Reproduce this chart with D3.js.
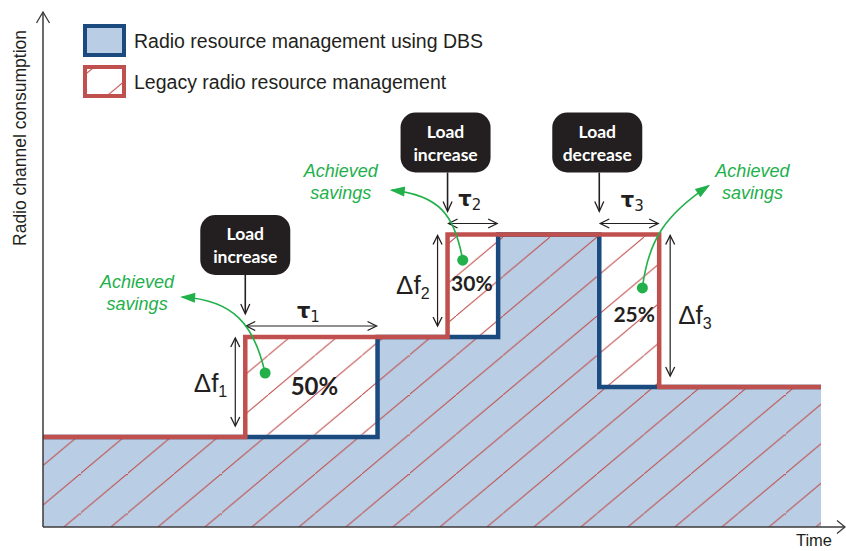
<!DOCTYPE html>
<html><head><meta charset="utf-8">
<script src="https://cdn.jsdelivr.net/npm/d3@7"></script>
<style>body{margin:0;background:#fff} svg{display:block}</style>
</head><body>
<svg id="chart" width="846" height="551"></svg>
<script>
// ---------------- data ----------------
const legacyTime  = [0, 26, 52, 79.2, 100];
const legacyLevel = [1.8, 3.8, 5.85, 2.8, 2.8];
const dbsTime     = [0, 43, 58.5, 71.5, 100];
const dbsLevel    = [1.8, 3.8, 5.85, 2.8, 2.8];
const legendLabels = ["Radio resource management using DBS", "Legacy radio resource management"];
const eventLabels  = [["Load", "increase"], ["Load", "increase"], ["Load", "decrease"]];
const savingsLabels = ["50%", "30%", "25%"];
const tauSubs   = ["1", "2", "3"];
const deltaSubs = ["1", "2", "3"];
const deltaSide = ["left", "left", "right"];
const achievedLabel = ["Achieved", "savings"];
const xAxisLabel = "Time";
const yAxisLabel = "Radio channel consumption";

// ---------------- layout / style ----------------
const W = 846, H = 551;
const BLUE_FILL = "#b9cde4", BLUE = "#1b4a7e", RED = "#c0504d", GREEN = "#22b04b", INK = "#231f20";
const x = d3.scaleLinear().domain([0, 100]).range([43, 821]);
const y = d3.scaleLinear().domain([0, 10]).range([527, 27]);

const svg = d3.select("#chart");
const defs = svg.append("defs");

// hatch pattern
const hw = 47, hh = 39.5;
const pat = defs.append("pattern").attr("id", "hatch").attr("patternUnits", "userSpaceOnUse")
  .attr("width", hw).attr("height", hh).attr("x", 33).attr("y", 0);
pat.append("line").attr("x1", -2).attr("y1", hh + 2 * hh / hw).attr("x2", hw + 2).attr("y2", -2 * hh / hw)
  .attr("stroke", RED).attr("stroke-width", 1);

const legacy = legacyTime.map((t, i) => ({t, v: legacyLevel[i]}));
const dbs = dbsTime.map((t, i) => ({t, v: dbsLevel[i]}));

const area = d3.area().x(d => x(d.t)).y0(y(0)).y1(d => y(d.v)).curve(d3.curveStepAfter);
const line = d3.line().x(d => x(d.t)).y(d => y(d.v)).curve(d3.curveStepAfter);

svg.append("path").attr("d", area(legacy)).attr("fill", "#fff");
svg.append("path").attr("d", area(dbs)).attr("fill", BLUE_FILL);
svg.append("path").attr("d", area(legacy)).attr("fill", "url(#hatch)");
svg.append("path").attr("d", line(dbs)).attr("fill", "none").attr("stroke", BLUE).attr("stroke-width", 4.5);
svg.append("path").attr("d", line(legacy)).attr("fill", "none").attr("stroke", RED).attr("stroke-width", 4.5);

// axes (no ticks) + arrow heads
const gx = svg.append("g").attr("transform", `translate(0,${y(0)})`)
  .call(d3.axisBottom(x).tickValues([]).tickSizeOuter(0));
const gy = svg.append("g").attr("transform", `translate(${x(0)},0)`)
  .call(d3.axisLeft(y).tickValues([]).tickSizeOuter(0));
[gx, gy].forEach(g => g.select(".domain").remove());
const AX = "#3a3a3a";
svg.append("line").attr("x1", x(0)).attr("x2", 845).attr("y1", y(0)).attr("y2", y(0)).attr("stroke", AX).attr("stroke-width", 1.5);
svg.append("line").attr("x1", x(0)).attr("x2", x(0)).attr("y1", y(0)).attr("y2", 12).attr("stroke", AX).attr("stroke-width", 1.5);
svg.append("path").attr("d", `M${845-8},${y(0)-6.5}L845,${y(0)}L${845-8},${y(0)+6.5}`).attr("fill", "none").attr("stroke", AX).attr("stroke-width", 1.3);
svg.append("path").attr("d", `M${x(0)-6.5},${12+11}L${x(0)},12L${x(0)+6.5},${12+11}`).attr("fill", "none").attr("stroke", AX).attr("stroke-width", 1.3);

svg.append("text").attr("x", 814).attr("y", 546).attr("text-anchor", "middle")
  .attr("font-family", "Liberation Sans, Arial, sans-serif").attr("font-size", 16.5).attr("fill", INK).text(xAxisLabel);
svg.append("text").attr("transform", "translate(26,138) rotate(-90)").attr("text-anchor", "middle")
  .attr("font-family", "Liberation Sans, Arial, sans-serif").attr("font-size", 17.5).attr("fill", INK).text(yAxisLabel);

// legend
const leg = svg.append("g");
legendLabels.forEach((lab, i) => {
  const ly = 26 + i * 41;
  if (i === 0) {
    leg.append("rect").attr("x", 85).attr("y", ly).attr("width", 39).attr("height", 29)
      .attr("fill", BLUE_FILL).attr("stroke", BLUE).attr("stroke-width", 4);
  } else {
    leg.append("rect").attr("x", 85).attr("y", ly).attr("width", 39).attr("height", 29).attr("fill", "#fff");
    leg.append("rect").attr("x", 85).attr("y", ly).attr("width", 39).attr("height", 29)
      .attr("fill", "url(#hatch)").attr("stroke", RED).attr("stroke-width", 4);
  }
  leg.append("text").attr("x", 134).attr("y", ly + 22).attr("font-family", "Liberation Sans, Arial, sans-serif")
    .attr("font-size", 19.5).attr("fill", INK).text(lab);
});

// ---------------- derived savings windows ----------------
function valAt(series, t) {
  let v = series[0].v;
  for (const d of series) if (d.t <= t) v = d.v;
  return v;
}
const bps = Array.from(new Set([...legacyTime, ...dbsTime])).sort((a, b) => a - b);
const windows = [];
for (let i = 0; i < bps.length - 1; i++) {
  const m = (bps[i] + bps[i + 1]) / 2;
  const lv = valAt(legacy, m), dv = valAt(dbs, m);
  if (lv > dv) windows.push({t0: bps[i], t1: bps[i + 1], hi: lv, lo: dv});
}

// annotation tweaks (pixel offsets, per window)
const pctFont = [24, 21, 21];
const pctDy = [8, 5, 11];
const pctDx = [3, -1, 5];
const tauDy = [-8, -18, -17];
const tauDx = [-3, -3, 3];
const deltaLabelDy = [10, 13, 18];
const dotFrac = [[0.15, 0.36], [0.3, 0.25], [0.72, 0.35]];
const tipOff = [[-83, -76], [-71, -70], [66, -102]];
const curveCtl = [[[-11, -48], [-31, -73]], [[-8, -45], [-23, -65]], [[6, -48], [23, -73]]];
const textOff = [[-45, -9], [-51, -13], [44, -9]];

function chevron(g, x0, y0, dx, dy, len, half) {
  const px = -dy, py = dx;
  g.append("path").attr("d",
    `M${x0 - dx * len + px * half},${y0 - dy * len + py * half}L${x0},${y0}L${x0 - dx * len - px * half},${y0 - dy * len - py * half}`)
    .attr("fill", "none").attr("stroke", INK).attr("stroke-width", 1.3);
}

const ann = svg.append("g");
windows.forEach((w, i) => {
  const xs = x(w.t0), xe = x(w.t1), yh = y(w.hi), yl = y(w.lo);

  // event callout
  const bw = 90, bh = 60;
  const bx = xs - bw / 2 - (i === 0 ? 0 : 2);
  ann.append("rect").attr("x", bx).attr("y", yh - 122).attr("width", bw).attr("height", bh).attr("rx", 15)
    .attr("fill", INK);
  eventLabels[i].forEach((s, k) => {
    ann.append("text").attr("x", bx + bw / 2).attr("y", yh - 97 + k * 23).attr("text-anchor", "middle")
      .attr("font-family", "Lato, 'Open Sans', sans-serif").attr("font-weight", 700).attr("font-size", 17.5)
      .attr("fill", "#fff").text(s);
  });
  ann.append("line").attr("x1", xs).attr("x2", xs).attr("y1", yh - 62).attr("y2", yh - 24)
    .attr("stroke", INK).attr("stroke-width", 1.6);
  chevron(ann, xs, yh - 23, 0, 1, 10, 4.5);

  // tau arrow
  const ty = yh - 11;
  ann.append("line").attr("x1", xs + 1).attr("x2", xe - 1).attr("y1", ty).attr("y2", ty).attr("stroke", INK).attr("stroke-width", 1.2);
  chevron(ann, xs + 1, ty, -1, 0, 9, 4.5);
  chevron(ann, xe - 1, ty, 1, 0, 9, 4.5);
  const tt = ann.append("text").attr("x", (xs + xe) / 2 + tauDx[i]).attr("y", ty + tauDy[i]).attr("text-anchor", "middle")
    .attr("font-family", "DejaVu Sans, sans-serif").attr("fill", INK);
  tt.append("tspan").attr("font-size", 21).attr("font-weight", 700).text("τ");
  tt.append("tspan").attr("font-size", 15).attr("dy", 4).text(tauSubs[i]);

  // delta f arrow
  const right = deltaSide[i] === "right";
  const ax = right ? xe + 11 : xs - 10;
  const y1 = yh + 1, y2 = yl - 11;
  ann.append("line").attr("x1", ax).attr("x2", ax).attr("y1", y1).attr("y2", y2).attr("stroke", INK).attr("stroke-width", 1.2);
  chevron(ann, ax, y1, 0, -1, 9, 4.5);
  chevron(ann, ax, y2, 0, 1, 9, 4.5);
  const dt = ann.append("text").attr("x", right ? ax + 8 : ax - 8).attr("y", (y1 + y2) / 2 + deltaLabelDy[i])
    .attr("text-anchor", right ? "start" : "end").attr("font-family", "Liberation Sans, Arial, sans-serif").attr("fill", INK);
  dt.append("tspan").attr("font-size", 26).text("Δf");
  dt.append("tspan").attr("font-size", 16).attr("dy", 5).text(deltaSubs[i]);

  // percentage
  ann.append("text").attr("x", (xs + xe) / 2 + pctDx[i]).attr("y", (yh + yl) / 2 + pctDy[i]).attr("text-anchor", "middle")
    .attr("font-family", "Lato, 'Open Sans', sans-serif").attr("font-weight", 700).attr("font-size", pctFont[i])
    .attr("fill", INK).text(savingsLabels[i]);

  // achieved savings
  const dx0 = xs + (xe - xs) * dotFrac[i][0], dy0 = yh + (yl - yh) * dotFrac[i][1];
  const tx = dx0 + tipOff[i][0], tyy = dy0 + tipOff[i][1];
  const c1 = curveCtl[i][0], c2 = curveCtl[i][1];
  const cp = d3.path();
  cp.moveTo(dx0, dy0);
  cp.bezierCurveTo(dx0 + c1[0], dy0 + c1[1], dx0 + c2[0], dy0 + c2[1], tx, tyy);
  ann.append("path").attr("d", cp.toString()).attr("fill", "none").attr("stroke", GREEN).attr("stroke-width", 1.6);
  let ddx = tx - (dx0 + c2[0]), ddy = tyy - (dy0 + c2[1]);
  const L = Math.hypot(ddx, ddy); ddx /= L; ddy /= L;
  const px = -ddy, py = ddx, al = 13, ah = 5;
  ann.append("path").attr("d",
    `M${tx + ddx * 2},${tyy + ddy * 2}L${tx - ddx * al + px * ah},${tyy - ddy * al + py * ah}L${tx - ddx * al - px * ah},${tyy - ddy * al - py * ah}Z`)
    .attr("fill", GREEN);
  ann.append("circle").attr("cx", dx0).attr("cy", dy0).attr("r", 5.5).attr("fill", GREEN);
  achievedLabel.forEach((s, k) => {
    ann.append("text").attr("x", tx + textOff[i][0]).attr("y", tyy + textOff[i][1] + k * 22).attr("text-anchor", "middle")
      .attr("font-family", "Liberation Sans, Arial, sans-serif").attr("font-style", "italic").attr("font-size", 18)
      .attr("fill", GREEN).text(s);
  });
});
</script>
</body></html>
